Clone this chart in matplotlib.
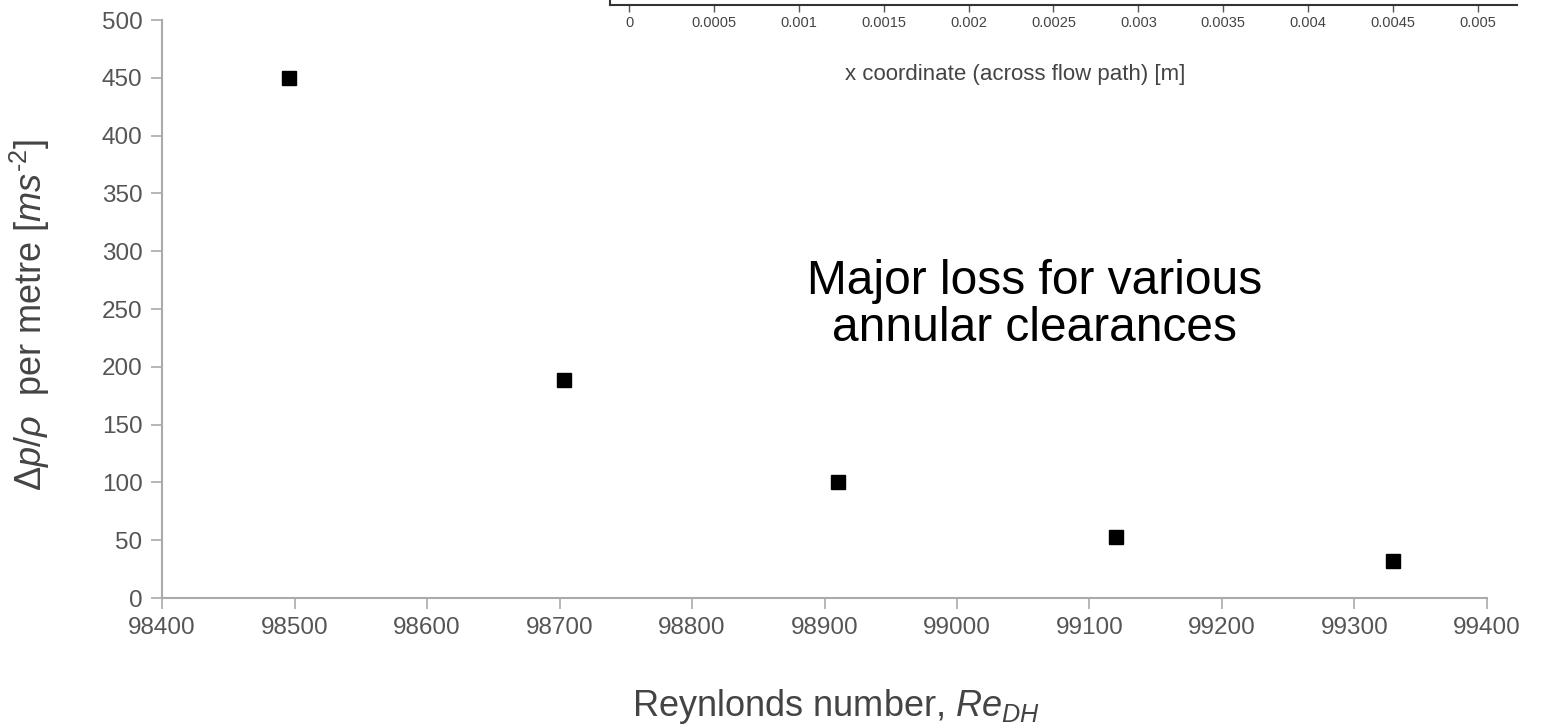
import matplotlib.pyplot as plt

plt.rcParams["font.family"] = ["Liberation Sans", "DejaVu Sans"]
plt.rcParams["mathtext.fontset"] = "custom"
plt.rcParams["mathtext.rm"] = "Liberation Sans"
plt.rcParams["mathtext.it"] = "Liberation Sans:italic"

# Main data: Reynolds number vs pressure loss per metre
reynolds = [98496, 98703, 98910, 99120, 99329]
dp_per_m = [450, 189, 100, 53, 32]
x_ticks = [98400, 98500, 98600, 98700, 98800, 98900, 99000, 99100, 99200, 99300, 99400]
y_ticks = [0, 50, 100, 150, 200, 250, 300, 350, 400, 450, 500]

# Cut-off chart at the top: only its x axis is visible
top_ticks = [0, 0.0005, 0.001, 0.0015, 0.002, 0.0025, 0.003, 0.0035, 0.004, 0.0045, 0.005]
top_labels = ["0", "0.0005", "0.001", "0.0015", "0.002", "0.0025", "0.003",
              "0.0035", "0.004", "0.0045", "0.005"]

fig = plt.figure(figsize=(15.42, 7.27), dpi=100)

ax = fig.add_axes([0.1051, 0.1774, 0.8592, 0.795])
ax.plot(reynolds, dp_per_m, linestyle="none", marker="s", markersize=9.5,
        color="black")
ax.set_xlim(98400, 99400)
ax.set_ylim(0, 500)
ax.set_xticks(x_ticks)
ax.set_yticks(y_ticks)
for s in ["top", "right"]:
    ax.spines[s].set_visible(False)
for s in ["left", "bottom"]:
    ax.spines[s].set_color("#aaaaaa")
    ax.spines[s].set_linewidth(1.5)
ax.tick_params(direction="out", length=8, width=1.2, color="#aaaaaa",
               labelsize=17.5, labelcolor="#555555", pad=6)
ax.set_xlabel(r"Reynlonds number, $Re_{DH}$", fontsize=26, color="#444444")
ax.xaxis.set_label_coords(0.509, -0.154)
ax.set_ylabel(r"$\mathit{\Delta p/\rho}$  per metre [$ms^{\text{-}2}$]",
              fontsize=26, color="#444444")
ax.yaxis.set_label_coords(-0.083, 0.49)

fig.text(0.671, 0.5805, "Major loss for various\nannular clearances",
         ha="center", va="center", fontsize=34.5, color="black",
         linespacing=1.07)

# upper chart, mostly outside the frame
ax2 = fig.add_axes([0.3956, 0.9931, 0.5882, 0.3])
ax2.set_xlim(-0.000112, 0.00523)
ax2.set_xticks(top_ticks)
ax2.set_xticklabels(top_labels)
ax2.set_yticks([])
ax2.spines["top"].set_visible(False)
ax2.spines["right"].set_visible(False)
for s in ["left", "bottom"]:
    ax2.spines[s].set_color("#333333")
    ax2.spines[s].set_linewidth(1.5)
ax2.tick_params(axis="x", direction="out", length=5, width=1, color="#555555",
                labelsize=10.5, labelcolor="#444444", pad=3)
ax2.set_xlabel("x coordinate (across flow path) [m]", fontsize=16,
               color="#444444")
ax2.xaxis.set_label_coords(0.4465, -0.27)

fig.savefig("out.png", dpi=100)
